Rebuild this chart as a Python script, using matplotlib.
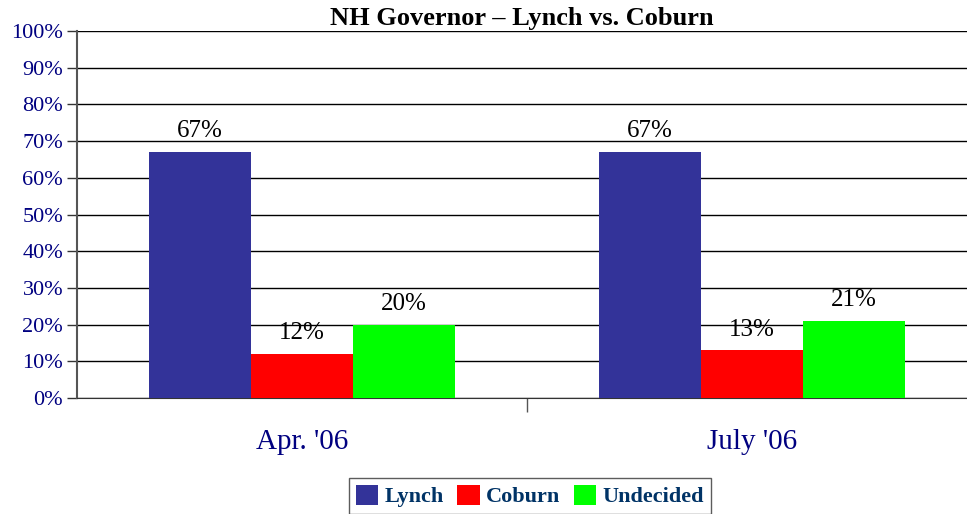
import numpy as np
import matplotlib
matplotlib.use('Agg')
import matplotlib.pyplot as plt
from matplotlib.patches import Patch

plt.rcParams['font.family'] = ['Liberation Serif', 'DejaVu Serif']

# Poll data
periods = ["Apr. '06", "July '06"]
candidates = ["Lynch", "Coburn", "Undecided"]
lynch = [67, 67]
coburn = [12, 13]
undecided = [20, 21]

COLORS = {"Lynch": "#333399", "Coburn": "#FF0000", "Undecided": "#00FF00"}
NAVY = "#000080"

fig = plt.figure(figsize=(9.67, 5.14), dpi=100)
# plot area runs a little past the right edge of the image, as in the original
ax = fig.add_axes([77 / 967, 116 / 514, 900 / 967, 367 / 514])

x = np.arange(len(periods))
width = 0.227
series = [lynch, coburn, undecided]
for i, (name, vals) in enumerate(zip(candidates, series)):
    offs = (i - 1) * width
    bars = ax.bar(x + offs, vals, width, color=COLORS[name], zorder=3, linewidth=0)
    for b, v in zip(bars, vals):
        ax.annotate(f"{v}%", (b.get_x() + b.get_width() / 2, v),
                    xytext=(0, 7), textcoords='offset points',
                    ha='center', va='bottom', fontsize=18, color='black')

ax.set_xlim(-0.5, 1.5)
ax.set_ylim(0, 100)
ax.set_yticks(np.arange(0, 101, 10))
ax.set_yticklabels([f"{t}%" for t in range(0, 101, 10)], fontsize=16, color=NAVY)
ax.tick_params(axis='y', length=7, width=1, color='#333333', pad=3)
ax.yaxis.grid(True, color='black', linewidth=1, zorder=0)

ax.set_xticks(x)
ax.set_xticklabels(periods, fontsize=21, color=NAVY)
ax.tick_params(axis='x', which='major', length=0, pad=22)
ax.set_xticks([0.5], minor=True)
ax.tick_params(axis='x', which='minor', length=10, width=1, color='#555555')

for s in ['top', 'right']:
    ax.spines[s].set_visible(False)
ax.spines['left'].set_color('#555555')
ax.spines['left'].set_linewidth(1.5)
ax.spines['bottom'].set_color('#333333')

fig.text(522 / 967, 1 - 18 / 514, "NH Governor \u2013 Lynch vs. Coburn",
         ha='center', va='center', fontsize=19, fontweight='bold')

handles = [Patch(facecolor=COLORS[c], edgecolor='none', label=c) for c in candidates]
leg = fig.legend(handles=handles, loc='upper center', bbox_to_anchor=(530 / 967, 1 - 467 / 514),
                 ncol=3, frameon=True, fancybox=False, edgecolor='#333333',
                 handlelength=1.0, handleheight=1.0, handletextpad=0.3, columnspacing=0.6,
                 borderpad=0.3, prop={'size': 16, 'weight': 'bold'})
for t in leg.get_texts():
    t.set_color('#003366')

plt.savefig('out.png', dpi=100)
